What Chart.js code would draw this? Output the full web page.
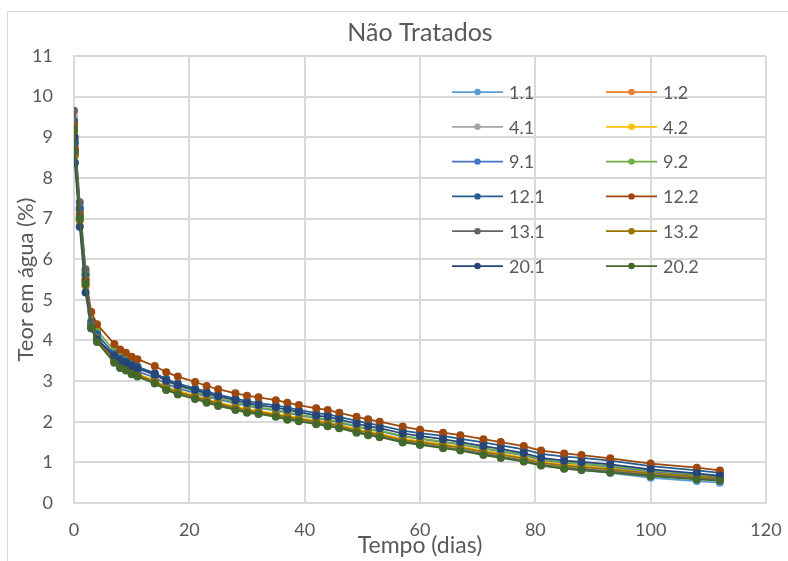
<!DOCTYPE html>
<html>
<head>
<meta charset="utf-8">
<script src="https://cdn.jsdelivr.net/npm/chart.js@4"></script>
<style>
  html, body { margin: 0; padding: 0; background: #ffffff; }
  #wrap { position: relative; width: 788px; height: 561px; overflow: hidden; }
  #frame { position: absolute; left: 7px; top: 11px; width: 900px; height: 700px; border: 1px solid #d9d9d9; }
  canvas { position: absolute; left: 0; top: 0; }
</style>
</head>
<body>
<div id="wrap">
  <div id="frame"></div>
  <canvas id="c" width="788" height="561"></canvas>
</div>
<script>
// Sampling days
const days = [0, 0.15, 1, 2, 3, 4, 7, 8, 9, 10, 11, 14, 16, 18, 21, 23, 25, 28, 30, 32, 35, 37, 39,
  42, 44, 46, 49, 51, 53, 57, 60, 64, 67, 71, 74, 78, 81, 85, 88, 93, 100, 108, 112];

// Water content (%) per sample
const s1_1 = [9.10, 8.70, 7.20, 5.65, 4.30, 4.00, 3.47, 3.34, 3.28, 3.19, 3.13, 2.96, 2.80, 2.69, 2.58, 2.49, 2.41, 2.31, 2.24, 2.21, 2.14, 2.07, 2.03,
  1.96, 1.91, 1.86, 1.75, 1.69, 1.64, 1.51, 1.45, 1.37, 1.31, 1.20, 1.13, 1.03, 0.93, 0.85, 0.81, 0.74, 0.62, 0.54, 0.50];
const s1_2 = [9.25, 8.75, 7.15, 5.50, 4.40, 4.10, 3.50, 3.38, 3.31, 3.23, 3.16, 3.00, 2.84, 2.74, 2.63, 2.54, 2.46, 2.36, 2.29, 2.25, 2.18, 2.13, 2.08,
  2.01, 1.97, 1.91, 1.80, 1.74, 1.69, 1.56, 1.51, 1.43, 1.37, 1.27, 1.20, 1.10, 1.00, 0.93, 0.90, 0.84, 0.74, 0.66, 0.62];
const s4_1 = [9.50, 8.90, 7.30, 5.70, 4.35, 4.05, 3.47, 3.35, 3.28, 3.20, 3.13, 2.97, 2.81, 2.70, 2.59, 2.50, 2.42, 2.32, 2.25, 2.21, 2.14, 2.09, 2.04,
  1.97, 1.92, 1.87, 1.76, 1.70, 1.65, 1.52, 1.46, 1.38, 1.32, 1.22, 1.15, 1.05, 0.95, 0.88, 0.85, 0.79, 0.70, 0.62, 0.58];
const s4_2 = [9.20, 8.60, 6.95, 5.35, 4.35, 4.05, 3.52, 3.40, 3.33, 3.25, 3.18, 3.02, 2.86, 2.76, 2.65, 2.56, 2.48, 2.38, 2.31, 2.27, 2.20, 2.15, 2.10,
  2.03, 1.99, 1.93, 1.82, 1.76, 1.71, 1.58, 1.53, 1.45, 1.39, 1.29, 1.22, 1.12, 1.02, 0.95, 0.92, 0.85, 0.75, 0.66, 0.62];
const s9_1 = [9.10, 8.60, 7.05, 5.45, 4.35, 4.08, 3.56, 3.45, 3.38, 3.30, 3.24, 3.09, 2.93, 2.82, 2.71, 2.62, 2.55, 2.45, 2.39, 2.34, 2.27, 2.22, 2.16,
  2.08, 2.04, 1.98, 1.88, 1.82, 1.77, 1.64, 1.58, 1.50, 1.44, 1.34, 1.27, 1.17, 1.06, 0.99, 0.96, 0.89, 0.78, 0.69, 0.64];
const s9_2 = [9.30, 8.90, 7.20, 5.65, 4.50, 4.25, 3.74, 3.60, 3.52, 3.43, 3.36, 3.18, 3.00, 2.88, 2.75, 2.66, 2.58, 2.48, 2.41, 2.36, 2.29, 2.24, 2.18,
  2.10, 2.06, 2.00, 1.89, 1.83, 1.78, 1.65, 1.59, 1.51, 1.45, 1.35, 1.28, 1.19, 1.08, 1.00, 0.97, 0.91, 0.80, 0.71, 0.66];
const s12_1 = [9.40, 8.85, 7.25, 5.60, 4.45, 4.15, 3.66, 3.55, 3.49, 3.41, 3.35, 3.20, 3.05, 2.94, 2.82, 2.74, 2.67, 2.57, 2.51, 2.46, 2.40, 2.35, 2.29,
  2.21, 2.18, 2.12, 2.02, 1.96, 1.91, 1.78, 1.72, 1.65, 1.58, 1.49, 1.42, 1.32, 1.21, 1.14, 1.11, 1.04, 0.91, 0.80, 0.74];
const s12_2 = [9.30, 8.70, 7.10, 5.50, 4.70, 4.40, 3.91, 3.78, 3.70, 3.60, 3.54, 3.37, 3.22, 3.11, 2.98, 2.88, 2.80, 2.70, 2.64, 2.60, 2.53, 2.47, 2.41,
  2.33, 2.29, 2.22, 2.12, 2.06, 2.00, 1.88, 1.80, 1.73, 1.67, 1.57, 1.50, 1.40, 1.29, 1.22, 1.18, 1.10, 0.97, 0.87, 0.80];
const s13_1 = [9.65, 9.00, 7.40, 5.75, 4.40, 4.08, 3.48, 3.36, 3.29, 3.21, 3.14, 2.97, 2.81, 2.70, 2.59, 2.50, 2.42, 2.32, 2.25, 2.21, 2.14, 2.08, 2.03,
  1.96, 1.91, 1.86, 1.75, 1.69, 1.64, 1.51, 1.45, 1.37, 1.31, 1.21, 1.14, 1.04, 0.94, 0.87, 0.84, 0.78, 0.69, 0.61, 0.58];
const s13_2 = [9.15, 8.55, 6.95, 5.35, 4.30, 4.00, 3.49, 3.37, 3.30, 3.22, 3.15, 2.99, 2.83, 2.73, 2.62, 2.53, 2.45, 2.35, 2.28, 2.24, 2.17, 2.12, 2.07,
  2.00, 1.96, 1.90, 1.79, 1.73, 1.68, 1.55, 1.50, 1.42, 1.36, 1.26, 1.19, 1.09, 0.99, 0.92, 0.89, 0.83, 0.73, 0.65, 0.61];
const s20_1 = [9.00, 8.37, 6.80, 5.18, 4.30, 4.02, 3.62, 3.50, 3.45, 3.37, 3.31, 3.16, 3.01, 2.90, 2.78, 2.70, 2.63, 2.53, 2.46, 2.41, 2.35, 2.30, 2.24,
  2.15, 2.12, 2.06, 1.95, 1.89, 1.84, 1.71, 1.65, 1.57, 1.50, 1.40, 1.33, 1.23, 1.11, 1.04, 1.01, 0.95, 0.83, 0.73, 0.67];
const s20_2 = [9.20, 8.65, 7.00, 5.40, 4.32, 3.96, 3.45, 3.32, 3.26, 3.17, 3.11, 2.94, 2.78, 2.67, 2.56, 2.47, 2.39, 2.29, 2.22, 2.19, 2.12, 2.05, 2.01,
  1.94, 1.89, 1.84, 1.73, 1.67, 1.62, 1.49, 1.43, 1.35, 1.29, 1.18, 1.11, 1.02, 0.92, 0.84, 0.81, 0.75, 0.66, 0.58, 0.55];

const seriesNames = ['1.1', '1.2', '4.1', '4.2', '9.1', '9.2', '12.1', '12.2', '13.1', '13.2', '20.1', '20.2'];
const seriesValues = [s1_1, s1_2, s4_1, s4_2, s9_1, s9_2, s12_1, s12_2, s13_1, s13_2, s20_1, s20_2];
const seriesColors = ['#5B9BD5', '#ED7D31', '#A5A5A5', '#FFC000', '#4472C4', '#70AD47',
  '#255E91', '#9E480E', '#636363', '#997300', '#264478', '#43682B'];

const xTicks = [0, 20, 40, 60, 80, 100, 120];
const yTicks = [0, 1, 2, 3, 4, 5, 6, 7, 8, 9, 10, 11];

const FONT = 'Lato, "Open Sans", sans-serif';
const TEXT = '#595959';
const GRID = '#d9d9d9';

// Later series are painted over earlier ones (lower order = drawn on top)
const datasets = seriesNames.map((name, i) => ({
  label: name,
  data: days.map((d, k) => ({ x: d, y: seriesValues[i][k] })),
  order: seriesNames.length - i,
  borderColor: seriesColors[i],
  backgroundColor: seriesColors[i],
  borderWidth: 1.75,
  pointRadius: 4,
  pointHoverRadius: 4,
  pointBorderWidth: 0,
  tension: 0
}));

// Two-column legend drawn inside the plot area
const insideLegend = {
  id: 'insideLegend',
  afterDatasetsDraw(chart) {
    const ctx = chart.ctx;
    const cols = [452, 606];
    const top = 92, rowGap = 34.8, lineLen = 51;
    ctx.save();
    ctx.font = '18px ' + FONT;
    ctx.textBaseline = 'middle';
    ctx.textAlign = 'left';
    chart.data.datasets.forEach((ds, i) => {
      const x = cols[i % 2];
      const y = top + Math.floor(i / 2) * rowGap;
      ctx.strokeStyle = ds.borderColor;
      ctx.lineWidth = 1.75;
      ctx.beginPath();
      ctx.moveTo(x, y);
      ctx.lineTo(x + lineLen, y);
      ctx.stroke();
      ctx.fillStyle = ds.backgroundColor;
      ctx.beginPath();
      ctx.arc(x + lineLen / 2, y, 3.2, 0, Math.PI * 2);
      ctx.fill();
      ctx.fillStyle = TEXT;
      ctx.fillText(ds.label, x + lineLen + 6, y + 1);
    });
    ctx.restore();
  }
};

new Chart(document.getElementById('c'), {
  type: 'line',
  data: { datasets },
  plugins: [insideLegend],
  options: {
    responsive: false,
    animation: false,
    events: [],
    layout: { padding: { left: 0, right: 22, top: 0, bottom: 0 } },
    plugins: {
      legend: { display: false },
      tooltip: { enabled: false },
      title: {
        display: true,
        fullSize: false,
        text: 'Não Tratados',
        color: TEXT,
        font: { family: FONT, size: 25, weight: 'normal' },
        padding: { top: 18, bottom: 8 }
      }
    },
    scales: {
      x: {
        type: 'linear',
        min: 0, max: 120,
        afterBuildTicks(scale) { scale.ticks = xTicks.map(v => ({ value: v })); },
        afterFit(scale) { scale.height = 58; scale.paddingLeft = 0; scale.paddingRight = 0; },
        grid: { color: GRID, lineWidth: 2, drawTicks: false },
        border: { color: GRID, width: 2 },
        ticks: { color: TEXT, font: { family: FONT, size: 18 }, padding: 16, maxRotation: 0 },
        title: {
          display: true, text: 'Tempo (dias)', color: TEXT,
          font: { family: FONT, size: 23 }, padding: { top: 0, bottom: 2 }
        }
      },
      y: {
        type: 'linear',
        min: 0, max: 11,
        afterBuildTicks(scale) { scale.ticks = yTicks.map(v => ({ value: v })); },
        afterFit(scale) { scale.width = 74; scale.paddingTop = 0; scale.paddingBottom = 0; },
        grid: { color: GRID, lineWidth: 2, drawTicks: false },
        border: { color: GRID, width: 2 },
        ticks: { color: TEXT, font: { family: FONT, size: 18 }, padding: 21 },
        title: {
          display: true, text: 'Teor em água (%)', color: TEXT,
          font: { family: FONT, size: 22 }, padding: { top: 13, bottom: 0 }
        }
      }
    }
  }
});
</script>
</body>
</html>
